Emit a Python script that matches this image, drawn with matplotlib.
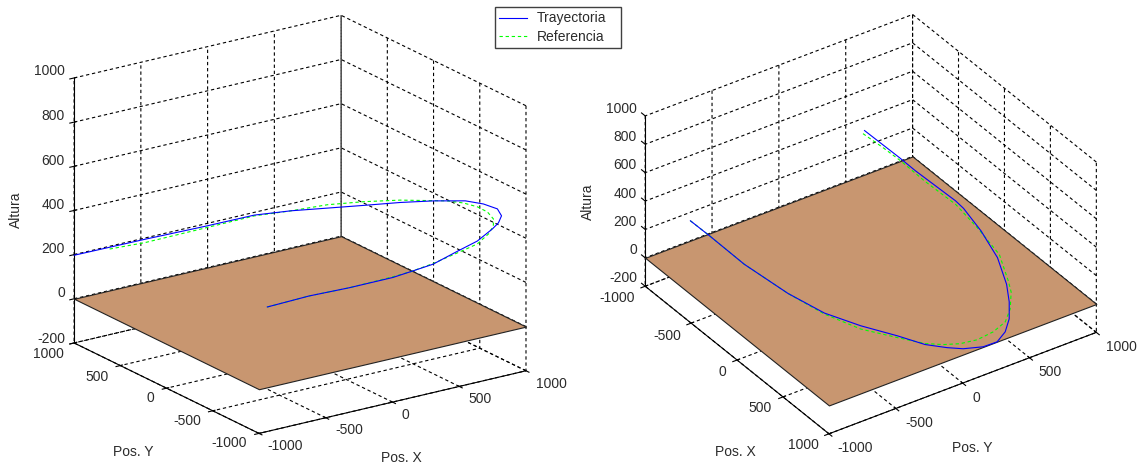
import matplotlib
matplotlib.use('Agg')
import matplotlib.pyplot as plt
from mpl_toolkits.mplot3d.art3d import Poly3DCollection

plt.rcParams['font.family'] = ['Liberation Sans']
plt.rcParams['font.size'] = 10
plt.rcParams['grid.color'] = 'black'
plt.rcParams['grid.linewidth'] = 0.8
plt.rcParams['grid.linestyle'] = (0, (3, 2.5))

#ticks
xy_ticks = [-1000, -500, 0, 500, 1000]
z_ticks = [-200, 0, 200, 400, 600, 800, 1000]

#trajectory, read from both views (height differs a bit between the views)
tray_x = [-799,-519,-194,181,401,640,897,1090,1244,1331,1417,1445,1402,1325,1162,985,768,526,279,66,-315,-686,-1168]
tray_y = [-800,-848,-813,-743,-622,-514,-418,-343,-284,-224,-133,-48,42,125,237,339,420,464,502,589,551,684,756]
tray_z_izq = [303,323,307,286,257,234,239,240,261,264,265,275,285,293,293,290,291,304,319,312,325,290,271]
tray_z_der = [294,350,307,271,204,200,229,241,278,294,320,339,355,377,372,367,413,459,477,388,415,269,182]

#reference
ref_x = [-799,-519,-194,181,401,640,934,1090,1210,1295,1355,1381,1372,1318,1240,991,775,513,251,-42,-366,-744,-1002]
ref_y = [-800,-848,-813,-743,-622,-514,-444,-343,-290,-221,-135,-33,63,137,198,348,429,445,462,432,477,601,623]
ref_z_izq = [303,323,307,289,257,237,246,227,244,254,260,267,272,282,290,298,305,325,331,356,340,300,302]
ref_z_der = [294,350,307,271,197,177,245,248,284,310,338,371,402,439,495,390,436,482,505,527,484,339,299]

W, H = 1140, 468
TXT = '#2b2b2b'
fig = plt.figure(figsize=(W/100, H/100), dpi=100)

def make_axes(pos, view, box):
    ax = fig.add_axes(pos, projection='3d', proj_type='ortho')
    ax.view_init(*view)
    ax.set_box_aspect(box)
    ax.set_xlim(-1000, 1000, view_margin=0)
    ax.set_ylim(-1000, 1000, view_margin=0)
    ax.set_zlim(-200, 1000, view_margin=0)
    ax.set_xticks(xy_ticks)
    ax.set_yticks(xy_ticks)
    ax.set_zticks(z_ticks)
    ax.set_xticklabels([])
    ax.set_yticklabels([])
    ax.set_zticklabels([])
    ax.patch.set_alpha(0)
    ax.computed_zorder = False
    for a in (ax.xaxis, ax.yaxis, ax.zaxis):
        a.set_pane_color((1, 1, 1, 0))
        a.pane.set_edgecolor('none')
        a.line.set_color('black')
        a.line.set_linewidth(0.8)
    # brown ground plane at height 0
    plane = [[(-1000, -1000, 0), (1000, -1000, 0), (1000, 1000, 0), (-1000, 1000, 0)]]
    ax.add_collection3d(Poly3DCollection(plane, facecolor='#c89670', edgecolor='#222222', linewidth=0.8, zorder=2))
    return ax

def put(u, v, s, **kw):
    fig.text(u/W, 1 - v/H, s, color=TXT, va='center', **kw)

# left view
axL = make_axes([0.0276, -0.0533, 0.4588, 1.1176], (19.8, -124.7), (324, 324, 281))
axL.plot(ref_x, ref_y, ref_z_izq, color='#00ff00', lw=0.8, ls=(0, (3, 2.5)), zorder=3)
axL.plot(tray_x, tray_y, tray_z_izq, color='#0000ff', lw=0.8, zorder=4)

# right view, z axis has to go on the left corner so draw it by hand
axR = make_axes([0.5442, -0.0139, 0.4277, 1.0418], (33.5, -34.5), (324, 324, 204))
axR.plot(ref_x, ref_y, ref_z_der, color='#00ff00', lw=0.8, ls=(0, (3, 2.5)), zorder=3)
axR.plot(tray_x, tray_y, tray_z_der, color='#0000ff', lw=0.8, zorder=4)
axR.zaxis.line.set_visible(False)
axR.zaxis._axinfo['tick']['inward_factor'] = 0
axR.zaxis._axinfo['tick']['outward_factor'] = 0
axR.plot([-1000, -1000], [-1000, -1000], [-200, 1000], color='black', lw=0.8, zorder=1)
for zt in z_ticks:
    axR.plot([-1000, -1040], [-1000, -1000], [zt, zt], color='black', lw=0.8, zorder=1)

# tick labels and axis titles
for zt, v in zip(z_ticks, [339, 293, 249, 205, 161, 116, 71]):
    put(65, v, str(zt), ha='right')
for yt, u, v in zip(xy_ticks, [229, 187, 150.5, 97.5, 48], [443, 421, 398, 377, 354]):
    put(u, v, str(yt), ha='center')
for xt, u, v in zip(xy_ticks, [285.5, 349, 405.5, 480, 551], [446, 430, 415, 399, 384]):
    put(u, v, str(xt), ha='center')
put(133, 452, 'Pos. Y', ha='center')
put(401, 458, 'Pos. X', ha='center')
put(16, 210, 'Altura', ha='center', rotation=90)

for zt, v in zip(z_ticks, [278, 250, 222, 194, 165, 137, 109]):
    put(637, v, str(zt), ha='right')
for xt, u, v in zip(xy_ticks, [617, 667, 722, 760.5, 803], [298, 336, 372, 408, 445]):
    put(u, v, str(xt), ha='center')
for yt, u, v in zip(xy_ticks, [855.5, 919, 976, 1050, 1121], [448, 423, 398, 372, 347]):
    put(u, v, str(yt), ha='center')
put(735.5, 452, 'Pos. X', ha='center')
put(972.5, 448, 'Pos. Y', ha='center')
put(587.5, 202, 'Altura', ha='center', rotation=90)

# legend between the two views
h = axL.get_lines()
leg = fig.legend([h[1], h[0]], ['Trayectoria', 'Referencia'], loc='upper left',
                 bbox_to_anchor=(494.5/W, 1 - 47.7/H, 126.5/W, 40.7/H), mode='expand',
                 borderaxespad=0, borderpad=0.32, labelspacing=0.3, handlelength=2.0,
                 handletextpad=0.75, fancybox=False, edgecolor='#404040', framealpha=1,
                 labelcolor=TXT)
leg.get_frame().set_linewidth(1)

fig.savefig('out.png', dpi=100)
